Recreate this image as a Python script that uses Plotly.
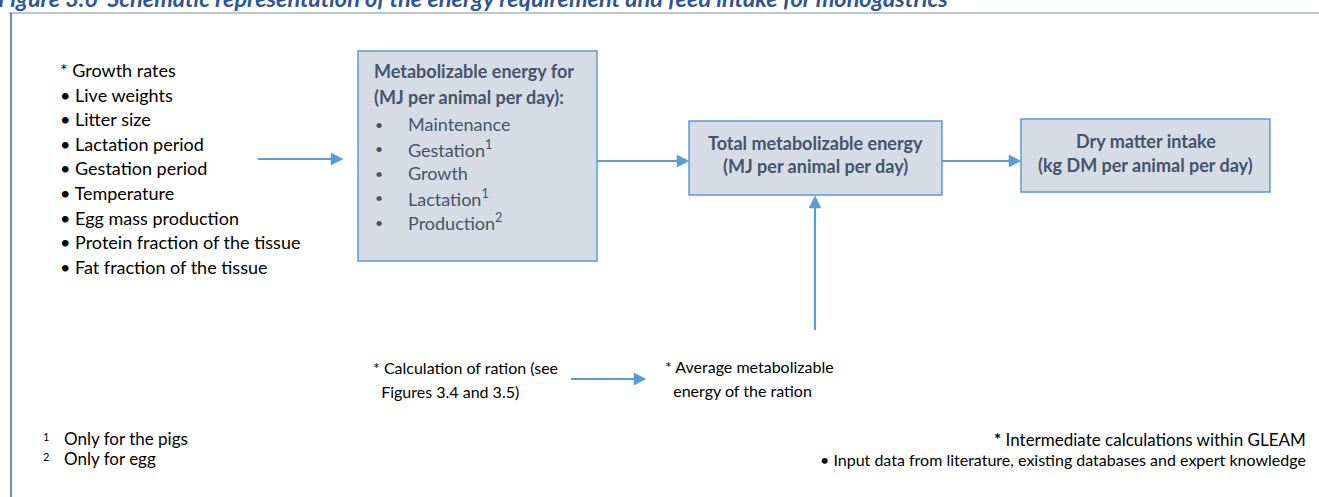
import plotly.graph_objects as go

# ---- content ----
title_text = "Figure 3.6  Schematic representation of the energy requirement and feed intake for monogastrics"
input_items = ["* Growth rates", "• Live weights", "• Litter size", "• Lactation period",
               "• Gestation period", "• Temperature", "• Egg mass production",
               "• Protein fraction of the tissue", "• Fat fraction of the tissue"]
me_heading = ["Metabolizable energy for", "(MJ per animal per day):"]
me_components = ["Maintenance", "Gestation<sup>1</sup>", "Growth",
                 "Lactation<sup>1</sup>", "Production<sup>2</sup>"]
total_me_text = ["Total metabolizable energy", "(MJ per animal per day)"]
dmi_text = ["Dry matter intake", "(kg DM per animal per day)"]
ration_text = ["* Calculation of ration (see", "  Figures 3.4 and 3.5)"]
avg_me_text = ["* Average metabolizable", "  energy of the ration"]
footnote_marks = ["1", "2"]
footnotes = ["Only for the pigs", "Only for egg"]
legend_notes = ["<b>*</b> Intermediate calculations within GLEAM",
                "• Input data from literature, existing databases and expert knowledge"]

# ---- styles ----
W, H = 1319, 497
FONT = "Lato"
BOX_FILL = "#d6dce5"
BOX_LINE = "#5b9bd5"
ARROW = "#5b9bd5"
BOX_TXT = "#44546a"

fig = go.Figure()
fig.update_layout(
    width=W, height=H, margin=dict(l=0, r=0, t=0, b=0),
    paper_bgcolor="white", plot_bgcolor="white", showlegend=False,
    xaxis=dict(range=[0, W], visible=False, fixedrange=True),
    yaxis=dict(range=[H, 0], visible=False, fixedrange=True),
)

shapes = []
# frame
shapes.append(dict(type="line", x0=9, x1=W, y0=13, y1=13, line=dict(color="#a9b4c8", width=1.5)))
shapes.append(dict(type="line", x0=11, x1=11, y0=13, y1=H, line=dict(color="#41699b", width=1.5)))
# boxes
boxes = [(358, 51, 597, 261), (689, 121, 942, 195), (1021, 119, 1270, 192)]
for x0, y0, x1, y1 in boxes:
    shapes.append(dict(type="rect", x0=x0, y0=y0, x1=x1, y1=y1, fillcolor=BOX_FILL,
                       line=dict(color=BOX_LINE, width=1.5), layer="below"))

HEAD_L, HEAD_W = 12, 6
def arrow(x0, y0, x1, y1):
    # horizontal or vertical arrows only
    if y0 == y1:
        d = 1 if x1 > x0 else -1
        bx = x1 - d * HEAD_L
        shapes.append(dict(type="line", x0=x0, y0=y0, x1=bx, y1=y1, line=dict(color=ARROW, width=2.2)))
        path = f"M {x1} {y1} L {bx} {y1 - HEAD_W} L {bx} {y1 + HEAD_W} Z"
    else:
        d = 1 if y1 > y0 else -1
        by = y1 - d * HEAD_L
        shapes.append(dict(type="line", x0=x0, y0=y0, x1=x1, y1=by, line=dict(color=ARROW, width=2.2)))
        path = f"M {x1} {y1} L {x1 - HEAD_W} {by} L {x1 + HEAD_W} {by} Z"
    shapes.append(dict(type="path", path=path, fillcolor=ARROW, line=dict(color=ARROW, width=0.5)))

arrow(258, 159, 343, 159)
arrow(597, 161, 689, 161)
arrow(942, 161, 1021, 161)
arrow(815, 330, 815, 196)
arrow(571, 379, 646, 379)
fig.update_layout(shapes=shapes)

ann = []
def txt(x, y, t, size=18, color="#000000", xanchor="left", bold=False):
    ann.append(dict(x=x, y=y, xref="x", yref="y", text=(f"<b>{t}</b>" if bold else t),
                    showarrow=False, xanchor=xanchor, yanchor="middle",
                    align=xanchor if xanchor != "center" else "center",
                    font=dict(family=FONT, size=size, color=color)))

# title (clipped by page top, as in the reference)
ann.append(dict(x=0, y=1.0, xref="paper", yref="paper", text=f"<b><i>{title_text}</i></b>",
                showarrow=False, xanchor="left", yanchor="middle", xshift=-4, yshift=2,
                font=dict(family=FONT, size=23.5, color="#2f5597")))

# inputs list
for i, t in enumerate(input_items):
    txt(58, 70 + i * 24.6, t)

# box 1 contents
txt(372, 71, me_heading[0], color=BOX_TXT, bold=True)
txt(372, 97, me_heading[1], color=BOX_TXT, bold=True)
for i, t in enumerate(me_components):
    txt(373, 124 + i * 24.6, "•", size=14, color=BOX_TXT)
    txt(406, 124 + i * 24.6, t, color=BOX_TXT)

# box 2 / box 3
for i, t in enumerate(total_me_text):
    txt(815.5, 143 + i * 23, t, color=BOX_TXT, xanchor="center", bold=True)
for i, t in enumerate(dmi_text):
    txt(1145.5, 141 + i * 24, t, color=BOX_TXT, xanchor="center", bold=True)

# bottom texts
for i, t in enumerate(ration_text):
    txt(371, 367 + i * 24, t.replace("  ", "&nbsp;&nbsp;"), size=16)
for i, t in enumerate(avg_me_text):
    txt(663, 366 + i * 24, t.replace("  ", "&nbsp;&nbsp;"), size=16)

# footnotes
for i, (m, t) in enumerate(zip(footnote_marks, footnotes)):
    txt(41, 436 + i * 20, m, size=11)
    txt(62, 438 + i * 20, t, size=17)
txt(1308, 439, legend_notes[0], size=17, xanchor="right")
txt(1308, 459, legend_notes[1], size=16, xanchor="right")

fig.update_layout(annotations=ann)
fig.write_html("out.html", config={"displayModeBar": False},
               post_script="document.body.style.margin='0px';")
